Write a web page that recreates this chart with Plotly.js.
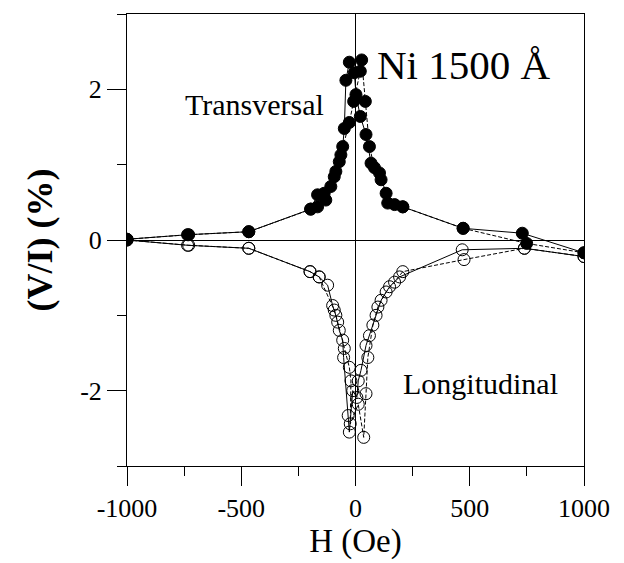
<!DOCTYPE html>
<html>
<head>
<meta charset="utf-8">
<script src="https://cdn.plot.ly/plotly-3.0.1.min.js"></script>
<style>html,body{margin:0;padding:0;background:#fff;}#chart{width:624px;height:563px;}</style>
</head>
<body>
<div id="chart"></div>
<script>
// Transversal, branch A (solid line)
var transA_H = [-1000, -735, -467, -196, -166, -130, -108, -86, -71, -56, -49, -42, -27, -5, 2, 21, 46, 68, 105, 134, 171, 207, 471, 730, 1000];
var transA_V = [0.01, 0.07, 0.11, 0.41, 0.60, 0.53, 0.71, 0.91, 1.04, 1.24, 1.48, 2.12, 2.36, 2.22, 1.93, 1.64, 1.40, 1.02, 0.89, 0.62, 0.47, 0.44, 0.155, 0.09, -0.17];
// Transversal, branch B (dashed line)
var transB_H = [-1000, -730, -467, -196, -166, -137, -93, -64, -27, -8, 21, 27, 43, 61, 83, 112, 141, 207, 471, 749, 1000];
var transB_V = [0.01, 0.07, 0.11, 0.41, 0.44, 0.62, 0.84, 1.13, 1.56, 1.84, 2.24, 2.39, 1.84, 1.24, 0.96, 0.80, 0.49, 0.44, 0.155, -0.045, -0.17];
// Longitudinal, branch A (solid line)
var longA_H = [-1000, -735, -467, -199, -159, -122, -100, -86, -71, -56, -52, -32, -27, -12, 6, 12, 24, 46, 61, 90, 112, 149, 193, 467, 739, 1000];
var longA_V = [0.0, -0.07, -0.11, -0.42, -0.49, -0.60, -0.87, -1.00, -1.20, -1.33, -1.56, -2.33, -2.55, -2.00, -2.09, -1.87, -1.73, -1.40, -1.27, -1.00, -0.80, -0.62, -0.49, -0.13, -0.11, -0.22];
// Longitudinal, branch B (dashed line)
var longB_H = [-1000, -730, -467, -199, -159, -93, -78, -49, -27, -20, -23, 12, 36, 46, 54, 76, 98, 134, 171, 207, 475, 739, 1000];
var longB_V = [0.0, -0.07, -0.11, -0.42, -0.49, -0.93, -1.09, -1.44, -1.69, -1.87, -2.44, -2.18, -2.62, -2.04, -1.56, -1.13, -0.89, -0.69, -0.56, -0.42, -0.26, -0.11, -0.22];

var xTicks = [-1000, -500, 0, 500, 1000];
var xTickText = ['-1000', '-500', '0', '500', '1000'];
var yTicks = [-2, 0, 2];
var yTickText = ['-2', '0', '2'];

var serif = 'Liberation Serif, Times New Roman, serif';

function tr(x, y, dash, symbol) {
  return {
    x: x, y: y, type: 'scatter', mode: 'lines+markers',
    line: {color: '#000', width: 1, dash: dash},
    marker: {symbol: symbol, size: 12, color: '#000', line: {color: '#000', width: 1}},
    showlegend: false, hoverinfo: 'skip'
  };
}

var data = [
  tr(longA_H, longA_V, 'solid', 'circle-open'),
  tr(longB_H, longB_V, '4px,2px', 'circle-open'),
  tr(transA_H, transA_V, 'solid', 'circle'),
  tr(transB_H, transB_V, '4px,2px', 'circle')
];

var layout = {
  width: 624, height: 563,
  margin: {l: 127, r: 40, t: 14, b: 97},
  paper_bgcolor: '#fff', plot_bgcolor: '#fff',
  font: {family: serif, color: '#000', size: 25},
  xaxis: {
    range: [-1000, 1000], tickvals: xTicks, ticktext: xTickText,
    ticks: 'outside', ticklen: 19, tickwidth: 1, tickcolor: '#000',
    minor: {dtick: 250, tick0: 0, ticks: 'outside', ticklen: 9, tickwidth: 1, tickcolor: '#000', showgrid: false},
    showline: true, linecolor: '#000', linewidth: 1, mirror: true,
    showgrid: false, zeroline: true, zerolinecolor: '#000', zerolinewidth: 1,
    tickfont: {family: serif, size: 26, color: '#000'},
    title: {text: 'H (Oe)', font: {family: serif, size: 33, color: '#000'}, standoff: 2}
  },
  yaxis: {
    range: [-3, 3], tickvals: yTicks, ticktext: yTickText,
    ticks: 'outside', ticklen: 19, tickwidth: 1, tickcolor: '#000',
    minor: {dtick: 1, tick0: 0, ticks: 'outside', ticklen: 9, tickwidth: 1, tickcolor: '#000', showgrid: false},
    showline: true, linecolor: '#000', linewidth: 1, mirror: true,
    showgrid: false, zeroline: true, zerolinecolor: '#000', zerolinewidth: 1,
    tickfont: {family: serif, size: 26, color: '#000'},
    title: {text: '<b>(V/I) (%)</b>', font: {family: serif, size: 36, color: '#000'}, standoff: 16}
  },
  annotations: [
    {text: 'Ni 1500 Å', x: 473, y: 2.32, xref: 'x', yref: 'y', showarrow: false, font: {family: serif, size: 41, color: '#000'}},
    {text: 'Transversal', x: -440, y: 1.8, xref: 'x', yref: 'y', showarrow: false, font: {family: serif, size: 30, color: '#000'}},
    {text: 'Longitudinal', x: 545, y: -1.9, xref: 'x', yref: 'y', showarrow: false, font: {family: serif, size: 30, color: '#000'}}
  ]
};

Plotly.newPlot('chart', data, layout, {staticPlot: true, displayModeBar: false});
</script>
</body>
</html>
